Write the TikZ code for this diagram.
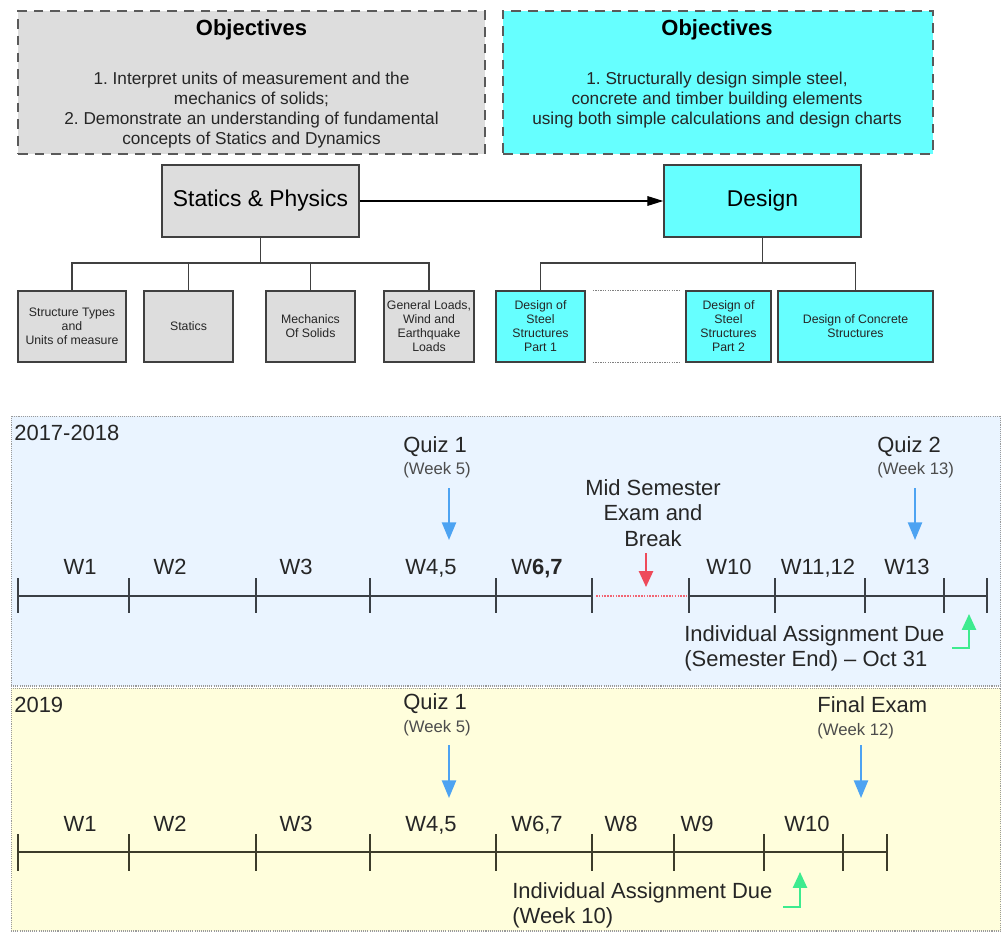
\documentclass[tikz,border=0pt]{standalone}
\usepackage{fontspec}
\setmainfont{Liberation Sans}
\usetikzlibrary{arrows.meta,calc}

\definecolor{boxgray}{HTML}{DDDDDD}
\definecolor{boxcyan}{HTML}{66FFFF}
\definecolor{edgegray}{HTML}{404040}
\definecolor{dashgray}{HTML}{5A5A5A}
\definecolor{framegray}{HTML}{9A9A9A}
\definecolor{lightblue}{HTML}{EAF4FF}
\definecolor{lightyellow}{HTML}{FFFEDC}
\definecolor{arrblue}{HTML}{4DA3F2}
\definecolor{arrred}{HTML}{EE4A5A}
\definecolor{arrgreen}{HTML}{3DEB8F}
\definecolor{axisgray}{HTML}{3A3F45}
\definecolor{axisolive}{HTML}{3C3C2A}

\begin{document}
\begin{tikzpicture}[x=0.02cm,y=-0.02cm,
 objbox/.style={draw=dashgray,line width=1pt,dash pattern=on 5.5pt off 4pt},
 objtitle/.style={anchor=base,inner sep=0pt,font=\bfseries\fontsize{12.5}{15}\selectfont},
 objtext/.style={align=center,inner sep=0pt,text=black!85,font=\fontsize{9.8}{11.3}\selectfont},
 topbox/.style={draw=edgegray,line width=0.9pt,minimum width=3.94cm,minimum height=1.44cm,font=\fontsize{13}{15}\selectfont},
 subbox/.style={draw=edgegray,line width=0.9pt,minimum height=1.42cm,align=center,inner sep=1pt,text=black!85,font=\fontsize{7}{8}\selectfont},
 tree/.style={draw=edgegray,line width=1pt},
 gapline/.style={draw=gray,line width=0.6pt,dash pattern=on 0.8pt off 0.6pt},
 yearbox/.style={draw=framegray,line width=0.6pt,dash pattern=on 0.6pt off 0.6pt,minimum width=19.8cm},
 big/.style={inner sep=0pt,text=black!85,font=\fontsize{12.5}{14.3}\selectfont},
 wk/.style={big,anchor=base},
 small/.style={anchor=base west,inner sep=0pt,text=black!70,font=\fontsize{9.5}{11}\selectfont},
 axis1/.style={draw=axisgray,line width=0.95pt},
 axis2/.style={draw=axisolive,line width=0.95pt},
 quizarr/.style={draw=arrblue,line width=1.1pt,-{Triangle[length=10pt,width=8pt]}},
 midarr/.style={draw=arrred,line width=1.1pt,-{Triangle[length=9pt,width=8pt]}},
 duearr/.style={draw=arrgreen,line width=1.1pt,-{Triangle[length=9pt,width=8pt]}},
 breakline/.style={draw=arrred!85,line width=1.4pt,dash pattern=on 0.9pt off 0.7pt}]
\useasboundingbox (0,0) rectangle (1003,932);

\node[objbox,fill=boxgray,minimum width=9.34cm,minimum height=2.86cm] (obj1) at (251.5,82.5) {};
\node[objtitle] (obj1t) at (251.5,36) {Objectives};
\node[objtext] (obj1l) at (251.5,110) {1.\ Interpret units of measurement and the\\mechanics of solids;\\2.\ Demonstrate an understanding of fundamental\\concepts of Statics and Dynamics};
\node[objbox,fill=boxcyan,minimum width=8.6cm,minimum height=2.86cm] (obj2) at (718,82.5) {};
\node[objtitle] (obj2t) at (717,36) {Objectives};
\node[objtext] (obj2l) at (717,100) {1.\ Structurally design simple steel,\\concrete and timber building elements\\using both simple calculations and design charts};

\node[topbox,fill=boxgray] (stat) at (260.5,201) {Statics \& Physics};
\node[topbox,fill=boxcyan] (des) at (762.5,201) {Design};
\draw[line width=0.6pt,-{Triangle[length=9pt,width=5.5pt]}] (stat) -- (des);

\node[subbox,fill=boxgray,minimum width=2.16cm] (sub1) at (72,326.5) {Structure Types\\and\\Units of measure};
\node[subbox,fill=boxgray,minimum width=1.78cm] (sub2) at (188.5,326.5) {Statics};
\node[subbox,fill=boxgray,minimum width=1.78cm] (sub3) at (310.5,326.5) {Mechanics\\Of Solids};
\node[subbox,fill=boxgray,minimum width=1.8cm] (sub4) at (429,326.5) {General Loads,\\Wind and\\Earthquake\\Loads};
\node[subbox,fill=boxcyan,minimum width=1.78cm] (dsn1) at (540.5,326.5) {Design of\\Steel\\Structures\\Part 1};
\node[subbox,fill=boxcyan,minimum width=1.7cm] (dsn2) at (728.5,326.5) {Design of\\Steel\\Structures\\Part 2};
\node[subbox,fill=boxcyan,minimum width=3.1cm] (dsn3) at (855.5,326.5) {Design of Concrete\\Structures};

\coordinate (sbus) at (260.5,263);
\draw[tree] (stat) -- (sbus);
\foreach \n in {sub1,sub2,sub3,sub4}
  \draw[tree] (sbus) -| (\n);
\coordinate (dbus) at (762.5,263);
\draw[tree] (des) -- (dbus);
\foreach \n in {dsn1,dsn3}
  \draw[tree] (dbus) -| (\n);
\draw[gapline] ($(dsn1.north east)+(7,0)$) -- ($(dsn2.north west)+(-4,0)$);
\draw[gapline] ($(dsn1.south east)+(7,0)$) -- ($(dsn2.south west)+(-4,0)$);

% 2017-2018
\node[yearbox,fill=lightblue,minimum height=5.4cm] (yr1) at (506,551) {};
\node[big,anchor=base west] (yr1t) at (14,440) {2017-2018};
\foreach \x [count=\i] in {18,129,256,370,496,592,689,775,865,944,987} {
  \coordinate (a\i) at (\x,596);
  \draw[axis1] (\x,578) -- (\x,613);
}
\draw[axis1] (a1) -- (a6);
\draw[breakline] ($(a6)+(4,0)$) -- ($(a7)+(-3,0)$);
\draw[axis1] (a7) -- (a11);
\node[wk] (wa1) at (80,574) {W1};
\node[wk] (wa2) at (170,574) {W2};
\node[wk] (wa3) at (296,574) {W3};
\node[wk] (wa4) at (431,574) {W4,5};
\node[wk] (wa5) at (537,574) {W\textbf{6,7}};
\node[wk] (wa6) at (729,574) {W10};
\node[wk] (wa7) at (818,574) {W11,12};
\node[wk] (wa8) at (907,574) {W13};

\node[big,anchor=base west] (qa1) at (403,452) {Quiz 1};
\node[small] (qa1w) at (403,474) {(Week 5)};
\coordinate (qa1s) at (449,488);
\coordinate (qa1e) at (449,540);
\draw[quizarr] (qa1s) -- (qa1e);
\node[big,anchor=base west] (qa2) at (877,452) {Quiz 2};
\node[small] (qa2w) at (877,474) {(Week 13)};
\coordinate (qa2s) at (915,488);
\coordinate (qa2e) at (915,540);
\draw[quizarr] (qa2s) -- (qa2e);

\node[big,align=center,anchor=north,font=\fontsize{12.5}{14.5}\selectfont] (mid) at (653,479) {Mid Semester\\Exam and\\Break};
\coordinate (mids) at (646,553);
\coordinate (mide) at (646,587);
\draw[midarr] (mids) -- (mide);

\node[big,align=left,anchor=north west] (due1) at (684,625) {Individual Assignment Due\\(Semester End) – Oct 31};
\coordinate (due1s) at (952,648);
\coordinate (due1e) at (969,614);
\draw[duearr] (due1s) -| (due1e);

% 2019
\node[yearbox,fill=lightyellow,minimum height=4.86cm] (yr2) at (506,809.5) {};
\node[big,anchor=base west] (yr2t) at (14,712) {2019};
\foreach \x [count=\i] in {18,129,256,370,496,592,674,764,843,887} {
  \coordinate (b\i) at (\x,852);
  \draw[axis2] (\x,834) -- (\x,871);
}
\draw[axis2] (b1) -- (b10);
\node[wk] (wb1) at (80,831) {W1};
\node[wk] (wb2) at (170,831) {W2};
\node[wk] (wb3) at (296,831) {W3};
\node[wk] (wb4) at (431,831) {W4,5};
\node[wk] (wb5) at (537,831) {W6,7};
\node[wk] (wb6) at (621,831) {W8};
\node[wk] (wb7) at (697,831) {W9};
\node[wk] (wb8) at (807,831) {W10};

\node[big,anchor=base west] (qb1) at (403,709) {Quiz 1};
\node[small] (qb1w) at (403,732) {(Week 5)};
\coordinate (qb1s) at (449,745);
\coordinate (qb1e) at (449,798);
\draw[quizarr] (qb1s) -- (qb1e);
\node[big,anchor=base west] (fin) at (817,712) {Final Exam};
\node[small] (finw) at (817,735) {(Week 12)};
\coordinate (fins) at (861,745);
\coordinate (fine) at (861,798);
\draw[quizarr] (fins) -- (fine);

\node[big,align=left,anchor=north west] (due2) at (512,882) {Individual Assignment Due\\(Week 10)};
\coordinate (due2s) at (783,907);
\coordinate (due2e) at (800,872);
\draw[duearr] (due2s) -| (due2e);
\end{tikzpicture}
\end{document}
